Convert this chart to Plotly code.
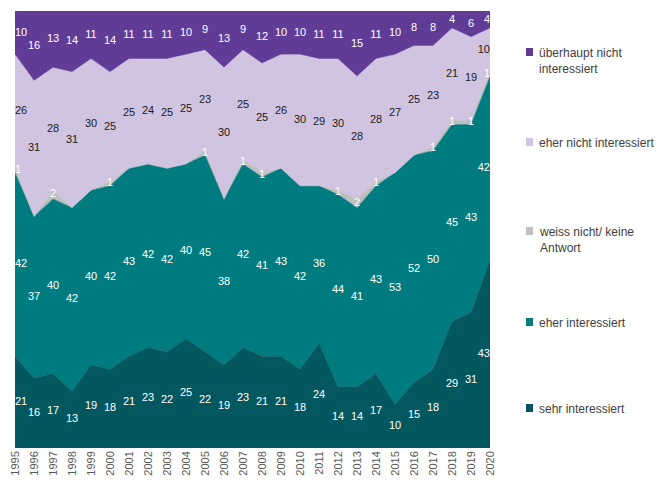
import plotly.graph_objects as go
import numpy as np

years = list(range(1995, 2021))
sehr = [21, 16, 17, 13, 19, 18, 21, 23, 22, 25, 22, 19, 23, 21, 21, 18, 24, 14, 14, 17, 10, 15, 18, 29, 31, 43]
eher_int = [42, 37, 40, 42, 40, 42, 43, 42, 42, 40, 45, 38, 42, 41, 43, 42, 36, 44, 41, 43, 53, 52, 50, 45, 43, 42]
weiss = [1, 0, 2, 0, 0, 1, 0, 0, 0, 0, 1, 0, 1, 1, 0, 0, 0, 1, 2, 1, 0, 0, 1, 1, 1, 1]
eher_nicht = [26, 31, 28, 31, 30, 25, 25, 24, 25, 25, 23, 30, 25, 25, 26, 30, 29, 30, 28, 28, 27, 25, 23, 21, 19, 10]
ueberhaupt = [10, 16, 13, 14, 11, 14, 11, 11, 11, 10, 9, 13, 9, 12, 10, 10, 11, 11, 15, 11, 10, 8, 8, 4, 6, 4]

series = [
    ("sehr interessiert", sehr, "#03575F", "white"),
    ("eher interessiert", eher_int, "#007C80", "white"),
    ("weiss nicht/ keine<br>Antwort", weiss, "#BFBFBF", "white"),
    ("eher nicht interessiert", eher_nicht, "#D1C4E1", "#1a1a1a"),
    ("überhaupt nicht<br>interessiert", ueberhaupt, "#603C97", "white"),
]

positions = ["middle right"] + ["middle center"] * (len(years) - 2) + ["middle left"]

fig = go.Figure()
cum = np.zeros(len(years))
label_traces = []
for name, vals, color, tcol in series:
    v = np.array(vals, dtype=float)
    fig.add_trace(go.Scatter(
        x=years, y=vals, name=name, stackgroup="one", mode="lines",
        line=dict(width=0.6, color=color), fillcolor=color, showlegend=False,
        hoverinfo="skip"))
    centers = cum + v / 2
    texts = [str(x) if x > 0 else "" for x in vals]
    label_traces.append(go.Scatter(
        x=years, y=centers, mode="text", text=texts, textposition=positions,
        textfont=dict(family="Liberation Sans, Arial", size=11, color=tcol),
        showlegend=False, hoverinfo="skip", cliponaxis=False))
    cum = cum + v

for t in label_traces:
    fig.add_trace(t)

# legend drawn manually (page pixel positions; plot area spans x 15-490, y 11-448)
legend_items = [
    ("überhaupt nicht<br>interessiert", "#603C97", 52),
    ("eher nicht interessiert", "#D1C4E1", 142),
    ("weiss nicht/ keine<br>Antwort", "#BFBFBF", 231),
    ("eher interessiert", "#007C80", 322),
    ("sehr interessiert", "#03575F", 408),
]
shapes = []
annotations = []
for text, color, ypx in legend_items:
    shapes.append(dict(type="rect", xref="paper", yref="paper",
                       x0=(526 - 15) / 475, x1=(533 - 15) / 475,
                       y0=(448 - (ypx + 4)) / 437, y1=(448 - (ypx - 4)) / 437,
                       fillcolor=color, line=dict(width=0)))
    annotations.append(dict(xref="paper", yref="paper",
                            x=(537 - 15) / 475, y=(448 - (ypx - 8)) / 437,
                            xanchor="left", yanchor="top", align="left",
                            text=text, showarrow=False,
                            font=dict(family="Liberation Sans, Arial", size=12, color="#404040")))

# page body has an 8px default margin, so figure is 662x474 placed at (8,8)
fig.update_layout(
    width=662, height=474,
    margin=dict(l=7, r=180, t=3, b=34, autoexpand=False),
    paper_bgcolor="white", plot_bgcolor="white",
    shapes=shapes, annotations=annotations,
    xaxis=dict(range=[1995, 2020], tickmode="array", tickvals=years,
               ticktext=[str(y) for y in years], tickangle=-90, automargin=False,
               tickfont=dict(family="Liberation Sans, Arial", size=11, color="#595959"),
               showgrid=False, zeroline=False, showline=False, ticks=""),
    yaxis=dict(range=[0, 100], visible=False, showgrid=False, zeroline=False,
               automargin=False),
)

fig.write_html("out.html")
